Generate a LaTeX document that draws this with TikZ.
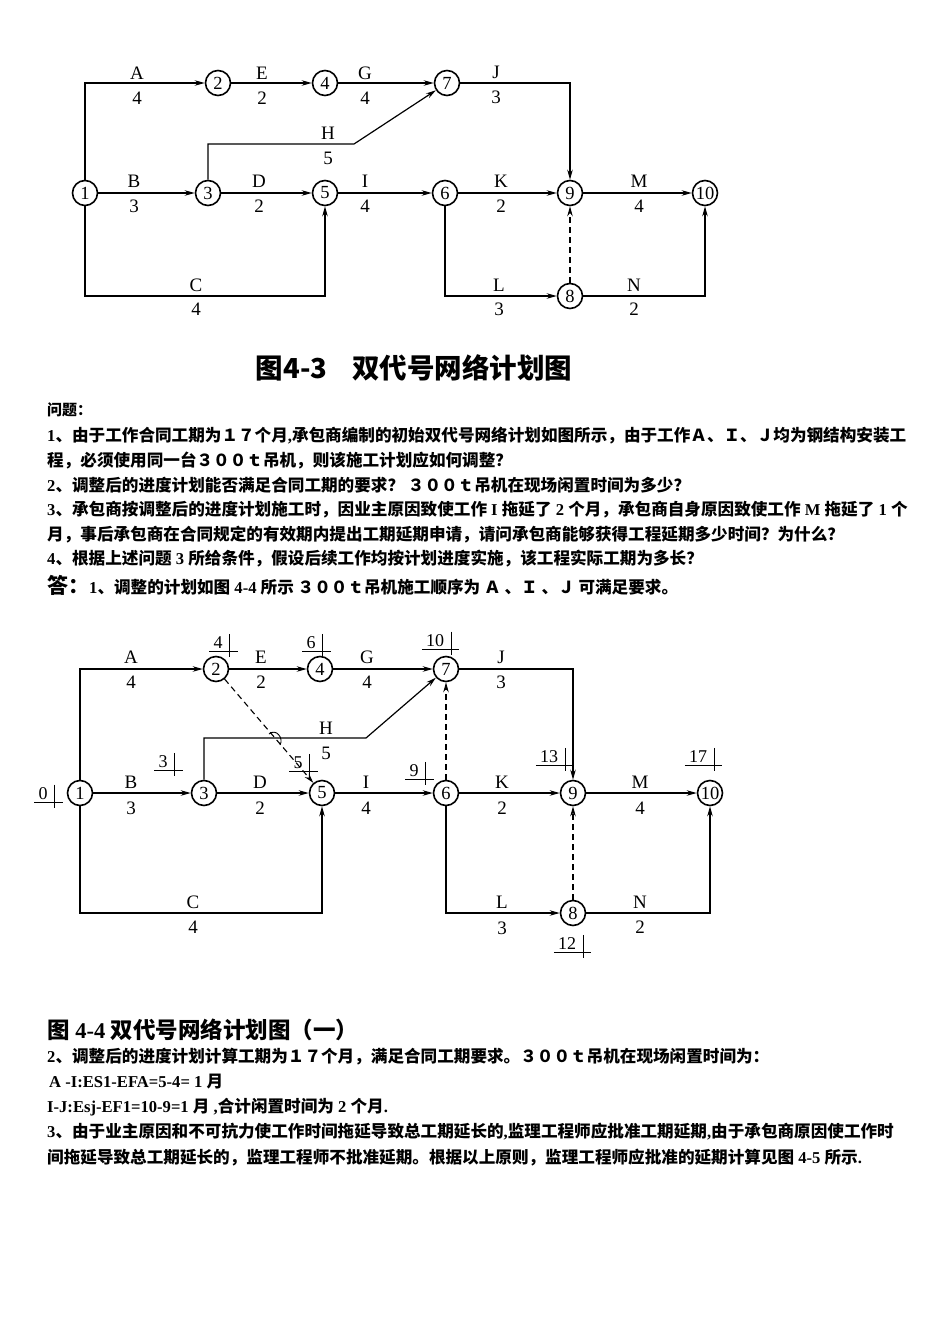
\documentclass[tikz,border=0pt]{standalone}
\usepackage{fontspec}
\setmainfont{Liberation Serif}
\newfontfamily\cjk{Noto Sans CJK SC}
\newfontfamily\tnr{Liberation Serif}
\usetikzlibrary{arrows.meta}
\newcommand\tmark[4]{%
  \node[mk] (#1) at (#2,#3) {#4};
  \draw[mkl] ([xshift=-4pt,yshift=-2pt]#1.south west) -- ([xshift=15pt,yshift=-2pt]#1.south east);
  \draw[mkl] ([xshift=7pt,yshift=3pt]#1.north east) -- ([xshift=7pt,yshift=-8pt]#1.south east);
}
\begin{document}
\begin{tikzpicture}[x=1pt,y=-1pt,
  ev/.style={circle,draw,line width=1.6pt,minimum size=25pt,inner sep=0pt,font=\fontsize{18.5}{18}\selectfont},
  lab/.style={inner sep=0pt,font=\fontsize{19}{19}\selectfont},
  edgeln/.style={line width=1.2pt},
  arr/.style={edgeln,-{Stealth[length=10pt,width=5.5pt]}},
  dsh/.style={line width=1.1pt,dash pattern=on 6pt off 4pt},
  darr/.style={dsh,-{Stealth[length=10pt,width=5.5pt]}},
  tx/.style={inner sep=0pt,anchor=west,font=\cjk\bfseries\fontsize{16.6}{17}\selectfont},
  captxt/.style={inner sep=0pt,font=\cjk\bfseries\fontsize{27.5}{28}\selectfont},
  mk/.style={inner sep=0pt,font=\fontsize{18}{18}\selectfont},
  mkl/.style={line width=1pt}]
\useasboundingbox[fill=white] (0,0) rectangle (950,1344);

% ---------------- Diagram 4-3 ----------------
\node[ev] (a1) at (85,193) {1};
\node[ev] (a2) at (218,83) {2};
\node[ev] (a4) at (325,83) {4};
\node[ev] (a7) at (447,83) {7};
\node[ev] (a3) at (208,193) {3};
\node[ev] (a5) at (325,193) {5};
\node[ev] (a6) at (445,193) {6};
\node[ev] (a9) at (570,193) {9};
\node[ev] (a10) at (705,193) {10};
\node[ev] (a8) at (570,296) {8};
\coordinate (ah) at (354,144);
\coordinate (ac) at (325,296);

\draw[arr] (a1) |- (a2);
\draw[arr] (a2) -- (a4);
\draw[arr] (a4) -- (a7);
\draw[arr] (a7) -| (a9);
\draw[arr] (a3) |- (ah) -- (a7);
\draw[arr] (a1) -- (a3);
\draw[arr] (a3) -- (a5);
\draw[arr] (a5) -- (a6);
\draw[arr] (a6) -- (a9);
\draw[arr] (a9) -- (a10);
\draw[arr] (a1) |- (ac) -- (a5);
\draw[arr] (a6) |- (a8);
\draw[arr] (a8) -| (a10);
\draw[darr] (a8) -- (a9);

\node[lab] (la1) at (137,73) {A}; \node[lab] (la2) at (137,98) {4};
\node[lab] (le1) at (262,73) {E}; \node[lab] (le2) at (262,98) {2};
\node[lab] (lg1) at (365,73) {G}; \node[lab] (lg2) at (365,98) {4};
\node[lab] (lj1) at (496,72) {J}; \node[lab] (lj2) at (496,97) {3};
\node[lab] (lh1) at (328,133) {H}; \node[lab] (lh2) at (328,158) {5};
\node[lab] (lb1) at (134,181) {B}; \node[lab] (lb2) at (134,206) {3};
\node[lab] (ld1) at (259,181) {D}; \node[lab] (ld2) at (259,206) {2};
\node[lab] (li1) at (365,181) {I}; \node[lab] (li2) at (365,206) {4};
\node[lab] (lk1) at (501,181) {K}; \node[lab] (lk2) at (501,206) {2};
\node[lab] (lm1) at (639,181) {M}; \node[lab] (lm2) at (639,206) {4};
\node[lab] (lc1) at (196,285) {C}; \node[lab] (lc2) at (196,309) {4};
\node[lab] (ll1) at (499,285) {L}; \node[lab] (ll2) at (499,309) {3};
\node[lab] (ln1) at (634,285) {N}; \node[lab] (ln2) at (634,309) {2};

\node[captxt] (cap1) at (414,368) {图4-3\hspace{0.9em}双代号网络计划图};

% ---------------- Questions ----------------
\node[tx,font=\cjk\bfseries\fontsize{15}{15}\selectfont] (q0) at (47,410) {问题：};
\node[tx] (q1) at (47,436) {{\tnr 1}、由于工作合同工期为１７个月{\tnr ,}承包商编制的初始双代号网络计划如图所示，由于工作Ａ、Ｉ、Ｊ均为钢结构安装工};
\node[tx] (q2) at (47,460) {程，必须使用同一台３００ｔ吊机，则该施工计划应如何调整？};
\node[tx] (q3) at (47,485) {{\tnr 2}、调整后的进度计划能否满足合同工期的要求？ ３００ｔ吊机在现场闲置时间为多少？};
\node[tx] (q4) at (47,510) {{\tnr 3}、承包商按调整后的进度计划施工时，因业主原因致使工作{\tnr\ I }拖延了{\tnr\ 2 }个月，承包商自身原因致使工作{\tnr\ M }拖延了{\tnr\ 1 }个};
\node[tx] (q5) at (47,535) {月，事后承包商在合同规定的有效期内提出工期延期申请，请问承包商能够获得工程延期多少时间？为什么？};
\node[tx] (q6) at (47,559) {{\tnr 4}、根据上述问题{\tnr\ 3 }所给条件，假设后续工作均按计划进度实施，该工程实际工期为多长？};
\node[tx] (q7) at (47,585) {{\fontsize{21}{21}\selectfont 答：}{\tnr 1}、调整的计划如图{\tnr\ 4-4 }所示 ３００ｔ吊机施工顺序为 Ａ 、Ｉ 、Ｊ 可满足要求。};

% ---------------- Diagram 4-4 ----------------
\node[ev] (b1) at (80,793) {1};
\node[ev] (b2) at (216,669) {2};
\node[ev] (b4) at (320,669) {4};
\node[ev] (b7) at (446,669) {7};
\node[ev] (b3) at (204,793) {3};
\node[ev] (b5) at (322,793) {5};
\node[ev] (b6) at (446,793) {6};
\node[ev] (b9) at (573,793) {9};
\node[ev] (b10) at (710,793) {10};
\node[ev] (b8) at (573,913) {8};
\coordinate (bh) at (366,738);
\coordinate (bc) at (322,913);

\draw[arr] (b1) |- (b2);
\draw[arr] (b2) -- (b4);
\draw[arr] (b4) -- (b7);
\draw[arr] (b7) -| (b9);
\draw[arr] (b3) |- (bh) -- (b7);
\draw[arr] (b1) -- (b3);
\draw[arr] (b3) -- (b5);
\draw[arr] (b5) -- (b6);
\draw[arr] (b6) -- (b9);
\draw[arr] (b9) -- (b10);
\draw[arr] (b1) |- (bc) -- (b5);
\draw[arr] (b6) |- (b8);
\draw[arr] (b8) -| (b10);
\draw[darr] (b2) -- (b5);
\draw[darr] (b6) -- (b7);
\draw[darr] (b8) -- (b9);
\draw[line width=0.9pt] (269,734) .. controls (276,728) and (284,738) .. (280,745);

\node[lab] (ma1) at (131,657) {A}; \node[lab] (ma2) at (131,682) {4};
\node[lab] (me1) at (261,657) {E}; \node[lab] (me2) at (261,682) {2};
\node[lab] (mg1) at (367,657) {G}; \node[lab] (mg2) at (367,682) {4};
\node[lab] (mj1) at (501,657) {J}; \node[lab] (mj2) at (501,682) {3};
\node[lab] (mh1) at (326,728) {H}; \node[lab] (mh2) at (326,753) {5};
\node[lab] (mb1) at (131,782) {B}; \node[lab] (mb2) at (131,808) {3};
\node[lab] (md1) at (260,782) {D}; \node[lab] (md2) at (260,808) {2};
\node[lab] (mi1) at (366,782) {I}; \node[lab] (mi2) at (366,808) {4};
\node[lab] (mk1) at (502,782) {K}; \node[lab] (mk2) at (502,808) {2};
\node[lab] (mm1) at (640,782) {M}; \node[lab] (mm2) at (640,808) {4};
\node[lab] (mc1) at (193,902) {C}; \node[lab] (mc2) at (193,927) {4};
\node[lab] (ml1) at (502,902) {L}; \node[lab] (ml2) at (502,928) {3};
\node[lab] (mn1) at (640,902) {N}; \node[lab] (mn2) at (640,927) {2};

\tmark{t0}{43}{794}{0}
\tmark{t4}{218}{643}{4}
\tmark{t6}{311}{643}{6}
\tmark{t10}{435}{641}{10}
\tmark{t3}{163}{762}{3}
\tmark{t5}{298}{763}{5}
\tmark{t9}{414}{771}{9}
\tmark{t13}{549}{757}{13}
\tmark{t17}{698}{757}{17}
\tmark{t12}{567}{944}{12}

% ---------------- Answers ----------------
\node[tx,font=\cjk\bfseries\fontsize{22.5}{23}\selectfont] (cap2) at (47,1030) {图{\tnr\ 4-4 }双代号网络计划图（一）};
\node[tx] (r1) at (47,1057) {{\tnr 2}、调整后的进度计划计算工期为１７个月，满足合同工期要求。３００ｔ吊机在现场闲置时间为：};
\node[tx] (r2) at (49,1082) {{\tnr A -I:ES1-EFA=5-4= 1 }月};
\node[tx] (r3) at (47,1107) {{\tnr I-J:Esj-EF1=10-9=1 }月{\tnr\ ,}合计闲置时间为{\tnr\ 2 }个月{\tnr .}};
\node[tx] (r4) at (47,1132) {{\tnr 3}、由于业主原因和不可抗力使工作时间拖延导致总工期延长的{\tnr ,}监理工程师应批准工期延期{\tnr ,}由于承包商原因使工作时};
\node[tx] (r5) at (47,1158) {间拖延导致总工期延长的，监理工程师不批准延期。根据以上原则，监理工程师应批准的延期计算见图{\tnr\ 4-5 }所示{\tnr .}};
\end{tikzpicture}
\end{document}
